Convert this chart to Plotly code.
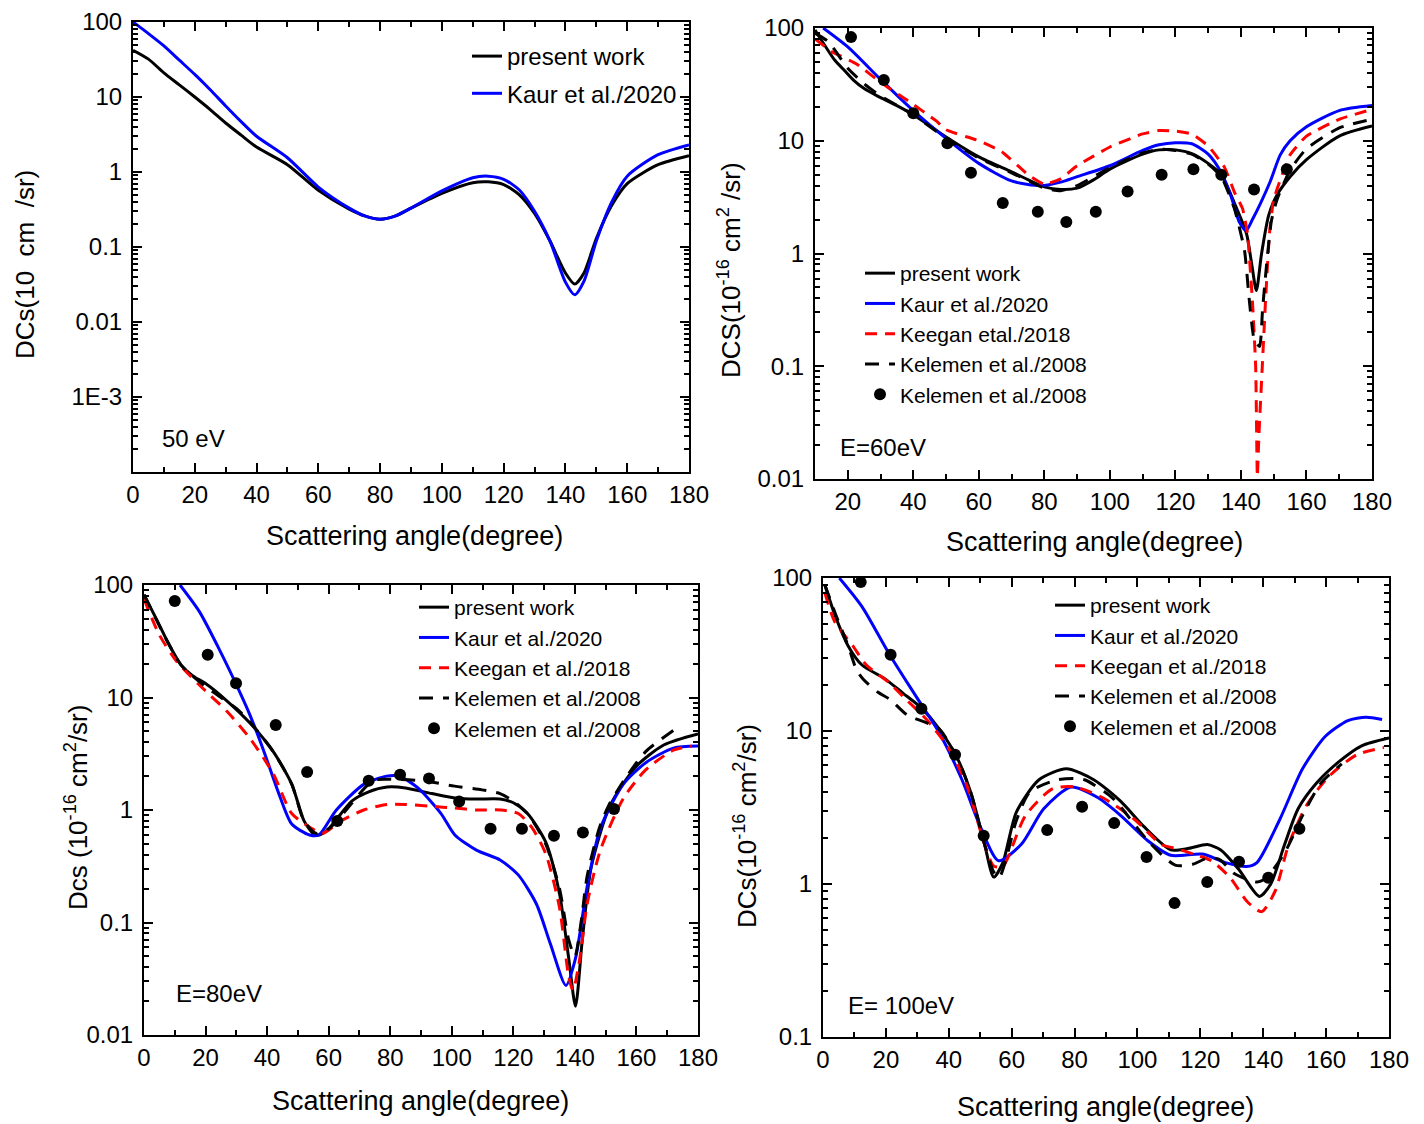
import plotly.graph_objects as go

# the page body adds an 8px margin around the figure
FW, FH = 1416, 1116
OFF = 8
FONT = "Liberation Sans, Arial, sans-serif"

# ---------------- Panel 1 : 50 eV ----------------
ang50 = [0, 5, 10, 15, 20, 25, 30, 35, 40, 50, 60, 70, 75, 80, 85, 90, 100, 110, 115, 120,
         125, 130, 135, 140, 143, 146, 150, 155, 160, 170, 180]
pw50 = [42, 32, 21, 14.5, 10, 6.8, 4.5, 3.1, 2.15, 1.25, 0.57, 0.32, 0.26, 0.235, 0.26, 0.33, 0.52,
        0.72, 0.74, 0.68, 0.5, 0.28, 0.12, 0.045, 0.032, 0.045, 0.13, 0.36, 0.7, 1.25, 1.65]
k50 = [100, 70, 48, 31, 20, 12.5, 7.6, 4.7, 3.0, 1.55, 0.63, 0.33, 0.26, 0.235, 0.26, 0.33, 0.56,
       0.84, 0.88, 0.8, 0.58, 0.3, 0.12, 0.034, 0.023, 0.035, 0.12, 0.4, 0.88, 1.7, 2.3]

# ---------------- Panel 2 : 60 eV ----------------
ang60_pw = [10, 13, 16, 19, 22, 25, 29, 35, 40, 50, 60, 70, 80, 85, 90, 95, 100, 110, 115, 120,
            125, 130, 134, 138, 141.7, 143.3, 144.7, 146.3, 148.5, 151, 155, 160, 170, 180]
pw60 = [96, 70, 52, 42, 34, 29, 25, 20.5, 17, 10.8, 7.2, 5.3, 3.9, 3.7, 3.8, 4.5, 5.6, 7.6, 8.3, 8.3,
        7.7, 6.3, 5.0, 2.8, 1.5, 0.8, 0.47, 1.0, 2.2, 3.3, 4.8, 6.8, 11, 13.5]
ang60_k = [12.5, 20, 30, 40, 50, 60, 70, 79, 85, 90, 100, 110, 115, 120, 125, 130, 134, 137,
           139.5, 141.6, 143.5, 146, 149, 152, 155, 160, 170, 180]
k60 = [100, 68, 35, 18.5, 10.5, 6.3, 4.4, 4.0, 4.3, 4.8, 6.0, 8.2, 9.2, 9.6, 9.4, 7.6, 5.2, 3.2,
       1.9, 1.6, 2.0, 2.8, 4.4, 7.5, 10, 13.3, 18.5, 20.5]
ang60_ke = [10, 15, 22.7, 30, 39, 47, 50, 60, 67, 75, 80, 85, 90, 100, 110, 115, 120, 125, 130,
            135, 138, 140.5, 142, 143.5, 144.5, 145, 145.5, 146.5, 147.5, 148.7, 150, 155, 160, 170, 180]
ke60 = [80, 62, 48, 33, 22, 15, 12.5, 10, 8, 5, 4.1, 4.6, 6, 8.8, 11.5, 12.3, 12.2, 11.5, 9,
        5.8, 3.5, 2.5, 1.5, 0.38, 0.098, 0.0105, 0.025, 0.098, 0.38, 1.5, 3, 7.5, 11, 15.5, 19]
ang60_kt = [10, 14, 20, 25, 30, 40, 50, 60, 70, 80, 85, 90, 95, 100, 110, 115, 120, 125, 130, 134,
            138, 141.1, 142.5, 144.1, 145.7, 146.6, 148, 149.3, 151, 155, 160, 170, 180]
kt60 = [90, 76, 44, 32, 25, 17, 10.5, 7, 5.2, 3.8, 3.6, 4.0, 4.8, 5.8, 7.8, 8.4, 8.2, 7.6, 6.2, 4.8,
        2.5, 1.06, 0.4, 0.17, 0.15, 0.32, 0.9, 1.95, 3.0, 5.5, 8.5, 13, 15.5]
ang60_ex = [21, 31, 40, 50.4, 57.6, 67.3, 78, 86.7, 95.7, 105.4, 115.8, 125.5, 134, 144, 154]
ex60 = [83, 34.5, 17.5, 9.5, 5.2, 2.8, 2.35, 1.9, 2.35, 3.55, 5.0, 5.6, 5.0, 3.7, 5.6]

# ---------------- Panel 3 : 80 eV ----------------
ang80_pw = [0, 4, 8, 12, 16, 20, 27, 34.5, 42, 48, 52, 55, 57, 60, 67.5, 73, 79, 85, 93.5, 101,
            108, 115.7, 120, 124.6, 130.5, 135, 138, 140.2, 142.4, 145.3, 151.3, 160, 169, 180]
pw80 = [82, 50, 30, 19.5, 15.5, 13.3, 9.3, 5.9, 3.3, 1.7, 0.8, 0.62, 0.6, 0.68, 1.2, 1.45, 1.6,
        1.57, 1.4, 1.28, 1.25, 1.25, 1.16, 0.93, 0.52, 0.18, 0.048, 0.018, 0.07, 0.31, 1.08, 2.45,
        3.8, 4.75]
ang80_k = [11.7, 18, 24.7, 30, 34.5, 39, 43.6, 48, 53.8, 56.8, 62.5, 71.4, 78.8, 83, 89, 96.5, 101,
           108, 115.7, 121.6, 127.5, 132, 137.1, 140.2, 144, 148.3, 155.7, 163, 172, 180]
k80 = [100, 58, 26, 13, 6.9, 3.3, 1.45, 0.75, 0.6, 0.6, 1.0, 1.69, 2.0, 2.0, 1.57, 0.93, 0.6, 0.44,
       0.36, 0.265, 0.146, 0.065, 0.0276, 0.048, 0.21, 0.69, 1.69, 2.63, 3.55, 3.7]
ang80_ke = [0, 5, 10.6, 18, 27, 34.5, 42, 48, 54, 58, 64, 71.4, 79, 85, 93, 101, 108, 116, 121.6,
            126, 130.5, 135, 138, 139.4, 141.6, 144, 148.3, 155.7, 163, 172, 178]
ke80 = [75, 36, 21, 12.9, 7.5, 4.3, 2.1, 0.93, 0.7, 0.62, 0.8, 1.0, 1.12, 1.12, 1.08, 1.04, 1.0,
        1.0, 0.93, 0.7, 0.41, 0.136, 0.033, 0.025, 0.048, 0.147, 0.44, 1.26, 2.27, 3.4, 3.7]
ang80_kt = [0, 8, 12, 20, 25, 30, 35, 42, 48, 52, 56, 60, 65, 74.4, 81.8, 90.6, 100.9, 109.8, 115.7,
            120, 125, 130.5, 135, 138, 140, 142, 144, 148, 151, 156.6, 163, 172]
kt80 = [82, 30, 19.5, 12.5, 10, 8.0, 5.8, 3.3, 1.7, 0.8, 0.62, 0.68, 0.95, 1.82, 1.87, 1.82, 1.63,
        1.51, 1.4, 1.2, 0.9, 0.5, 0.2, 0.07, 0.05, 0.1, 0.26, 0.7, 1.1, 1.95, 3.3, 5.1]
ang80_ex = [10, 20.7, 29.9, 42.8, 53, 62.8, 73, 83.2, 92.6, 102.4, 112.6, 122.8, 133.2, 142.6, 152.7]
ex80 = [72, 24, 13.4, 5.7, 2.18, 0.8, 1.82, 2.06, 1.91, 1.19, 0.68, 0.68, 0.59, 0.63, 1.02]

# ---------------- Panel 4 : 100 eV ----------------
ang100_pw = [0.6, 3.7, 8, 12.4, 19.6, 25.4, 31.2, 37, 42.7, 47.1, 51.4, 54.3, 57.2, 61.5, 68.7, 77.4,
             86.1, 94.7, 102, 110.6, 116.4, 122.2, 126.5, 132.3, 138.8, 142.4, 146.8, 151.1, 156.9,
             164.1, 171.3, 180]
pw100 = [90, 58, 36, 27, 22, 17.7, 14.2, 10.3, 6.65, 3.9, 1.81, 1.11, 1.38, 2.95, 4.8, 5.66, 4.8,
         3.47, 2.38, 1.67, 1.71, 1.81, 1.67, 1.24, 0.83, 1.0, 1.81, 3.1, 4.55, 6.3, 8.0, 9.0]
ang100_k = [5.2, 12.4, 21, 29.7, 37, 44.2, 50, 55.8, 63, 70.2, 78.9, 87.5, 94.7, 103.4, 110.6, 120.7,
            128, 134.7, 138, 145.3, 152.5, 159.7, 166.9, 172.7, 177.8]
k100 = [100, 65, 32, 16.7, 9.7, 4.8, 2.38, 1.42, 1.81, 3.1, 4.3, 3.66, 2.8, 1.91, 1.54, 1.57, 1.38,
        1.3, 1.38, 2.65, 5.66, 9.2, 11.7, 12.3, 11.9]
ang100_ke = [0.6, 3.7, 9.5, 13.8, 21, 26.8, 32.6, 39.8, 45.5, 51.4, 54.3, 57.2, 64.4, 73.1, 80.3, 89,
             99, 107.7, 112, 117.8, 123.5, 129.3, 135.1, 139.5, 143.8, 148.1, 153.9, 161.1, 169.8, 178.4]
ke100 = [80, 52, 36, 27, 20.7, 15.8, 12.1, 7.8, 4.55, 1.81, 1.31, 1.31, 2.8, 4.2, 4.3, 3.66, 2.65,
         1.81, 1.71, 1.57, 1.42, 1.11, 0.76, 0.66, 0.9, 1.81, 3.3, 5.1, 7.0, 7.8]
ang100_kt = [0.6, 4, 8, 10.7, 12.8, 17.5, 21.3, 26.8, 32, 37, 42.7, 47.1, 51.4, 54.3, 56, 58, 61.5,
             65.8, 74.5, 80, 83.2, 92, 103.4, 112, 117.8, 122, 126, 130.8, 138, 141, 146.8, 152.5,
             158.3, 165]
kt100 = [90, 58, 36, 25, 21.8, 17.9, 16.1, 12.7, 11.5, 10.3, 6.65, 3.9, 1.81, 1.2, 1.1, 1.4, 2.6,
         4.0, 4.8, 4.9, 4.8, 3.66, 1.91, 1.33, 1.35, 1.47, 1.45, 1.17, 1.03, 1.1, 1.6, 2.8, 4.55, 6.1]
ang100_ex = [12, 21.5, 31.3, 42, 51.1, 71.3, 82.4, 92.6, 102.9, 111.8, 122.2, 132.3, 141.6, 151.5]
ex100 = [94, 31.5, 14, 7.0, 2.07, 2.25, 3.2, 2.5, 1.5, 0.75, 1.03, 1.4, 1.1, 2.3]

# legend labels per panel
labels50 = ["present work", "Kaur et al./2020"]
labels60 = ["present work", "Kaur et al./2020", "Keegan etal./2018", "Kelemen et al./2008", "Kelemen et al./2008"]
labels80 = ["present work", "Kaur et al./2020", "Keegan et al./2018", "Kelemen et al./2008", "Kelemen et al./2008"]

BLACK, BLUE, RED = "#000000", "#0000ff", "#ff0000"
LW = 3
RDASH = "12px,8px"
KDASH = "14px,10px"

fig = go.Figure()


def line(x, y, name, color, dash, ax, leg, smooth=0.7, group=None):
    fig.add_trace(go.Scatter(
        x=x, y=y, name=name, mode="lines",
        line=dict(color=color, width=LW, dash=dash, shape="spline", smoothing=smooth),
        xaxis="x" + ax, yaxis="y" + ax, legend=leg, legendgroup=group))


def dots(x, y, name, ax, leg):
    fig.add_trace(go.Scatter(
        x=x, y=y, name=name, mode="markers",
        marker=dict(color=BLACK, size=12, symbol="circle"),
        xaxis="x" + ax, yaxis="y" + ax, legend=leg))


# panel 1
line(ang50, pw50, labels50[0], BLACK, "solid", "", "legend", group="g1")
line(ang50, k50, labels50[1], BLUE, "solid", "", "legend", group="g2")
# panel 2
line(ang60_pw, pw60, labels60[0], BLACK, "solid", "2", "legend2")
line(ang60_k, k60, labels60[1], BLUE, "solid", "2", "legend2")
line(ang60_ke, ke60, labels60[2], RED, RDASH, "2", "legend2", 0.4)
line(ang60_kt, kt60, labels60[3], BLACK, KDASH, "2", "legend2", 0.5)
dots(ang60_ex, ex60, labels60[4], "2", "legend2")
# panel 3
line(ang80_pw, pw80, labels80[0], BLACK, "solid", "3", "legend3")
line(ang80_k, k80, labels80[1], BLUE, "solid", "3", "legend3")
line(ang80_ke, ke80, labels80[2], RED, RDASH, "3", "legend3")
line(ang80_kt, kt80, labels80[3], BLACK, KDASH, "3", "legend3")
dots(ang80_ex, ex80, labels80[4], "3", "legend3")
# panel 4
line(ang100_pw, pw100, labels80[0], BLACK, "solid", "4", "legend4")
line(ang100_k, k100, labels80[1], BLUE, "solid", "4", "legend4")
line(ang100_ke, ke100, labels80[2], RED, RDASH, "4", "legend4")
line(ang100_kt, kt100, labels80[3], BLACK, KDASH, "4", "legend4")
dots(ang100_ex, ex100, labels80[4], "4", "legend4")


# screen-pixel -> paper conversions
def sx(px):
    return (px - OFF) / FW


def sy(py):
    return 1 - (py - OFF) / FH


def xdom(a, b):
    return [sx(a), sx(b)]


def ydom(top, bottom):
    return [sy(bottom), sy(top)]


tickfont = dict(family=FONT, size=24, color="black")


def xaxis(dom, anchor, rng, tickvals):
    return dict(domain=dom, anchor=anchor, range=rng, tickvals=tickvals,
                ticktext=[str(v) for v in tickvals], automargin=False,
                showline=True, linecolor="black", linewidth=2, mirror="ticks",
                ticks="inside", ticklen=9, tickwidth=2, tickcolor="black",
                minor=dict(ticks="inside", ticklen=5, tickwidth=1.5, dtick=10, tick0=0,
                           tickcolor="black"),
                showgrid=False, zeroline=False, tickfont=tickfont, ticklabelstandoff=0)


def yaxis(dom, anchor, rng, tickvals, ticktext):
    return dict(domain=dom, anchor=anchor, type="log", range=rng, tickvals=tickvals,
                ticktext=ticktext, automargin=False,
                showline=True, linecolor="black", linewidth=2, mirror="ticks",
                ticks="inside", ticklen=9, tickwidth=2, tickcolor="black",
                minor=dict(ticks="inside", ticklen=5, tickwidth=1.5, dtick="D1",
                           tickcolor="black"),
                showgrid=False, zeroline=False, tickfont=tickfont, ticklabelstandoff=4)


xt = [0, 20, 40, 60, 80, 100, 120, 140, 160, 180]
xt2 = [20, 40, 60, 80, 100, 120, 140, 160, 180]


def legend(xpx, ypx, size, gap=0):
    return dict(x=sx(xpx), y=sy(ypx), xanchor="left", yanchor="top",
                bgcolor="rgba(0,0,0,0)", font=dict(family=FONT, size=size, color="black"),
                tracegroupgap=gap)


fig.update_layout(
    template="none",
    width=FW, height=FH, margin=dict(l=0, r=0, t=0, b=0, pad=0, autoexpand=False),
    paper_bgcolor="white", plot_bgcolor="white",
    font=dict(family=FONT, size=24, color="black"),
    xaxis=xaxis(xdom(133, 689), "y", [0, 180], xt),
    yaxis=yaxis(ydom(22, 472), "x", [-4, 2], [100, 10, 1, 0.1, 0.01, 0.001],
                ["100", "10", "1", "0.1", "0.01", "1E-3"]),
    xaxis2=xaxis(xdom(815, 1372), "y2", [10, 180], xt2),
    yaxis2=yaxis(ydom(28, 479), "x2", [-2, 2], [100, 10, 1, 0.1, 0.01],
                 ["100", "10", "1", "0.1", "0.01"]),
    xaxis3=xaxis(xdom(144, 698), "y3", [0, 180], xt),
    yaxis3=yaxis(ydom(585, 1035), "x3", [-2, 2], [100, 10, 1, 0.1, 0.01],
                 ["100", "10", "1", "0.1", "0.01"]),
    xaxis4=xaxis(xdom(823, 1389), "y4", [0, 180], xt),
    yaxis4=yaxis(ydom(578, 1037), "x4", [-1, 2], [100, 10, 1, 0.1],
                 ["100", "10", "1", "0.1"]),
    showlegend=True,
    legend=legend(467, 34, 24, 3),
    legend2=legend(860, 253, 21),
    legend3=legend(414, 587, 21),
    legend4=legend(1050, 585, 21),
)


def ann(text, xpx, ypx, angle=0, size=26, xanchor="center"):
    fig.add_annotation(text=text, x=sx(xpx), y=sy(ypx), xref="paper", yref="paper",
                       showarrow=False, textangle=angle, xanchor=xanchor, yanchor="middle",
                       font=dict(family=FONT, size=size, color="black"))


# axis titles
ann("DCs(10  cm  /sr)", 25, 265, -90)
ann("DCS(10<sup>-16</sup> cm<sup>2</sup> /sr)", 730, 270, -90)
ann("Dcs (10<sup>-16</sup> cm<sup>2</sup>/sr)", 76, 808, -90)
ann("DCs(10<sup>-16</sup> cm<sup>2</sup>/sr)", 745, 826, -90)
ann("Scattering angle(degree)", 415, 536, size=27)
ann("Scattering angle(degree)", 1094, 542, size=27)
ann("Scattering angle(degree)", 420, 1101, size=27)
ann("Scattering angle(degree)", 1105, 1107, size=27)
# energy labels
ann("50 eV", 160, 439, size=24, xanchor="left")
ann("E=60eV", 838, 447, size=24, xanchor="left")
ann("E=80eV", 174, 993, size=24, xanchor="left")
ann("E= 100eV", 846, 1005, size=24, xanchor="left")

fig.write_html("out.html")
